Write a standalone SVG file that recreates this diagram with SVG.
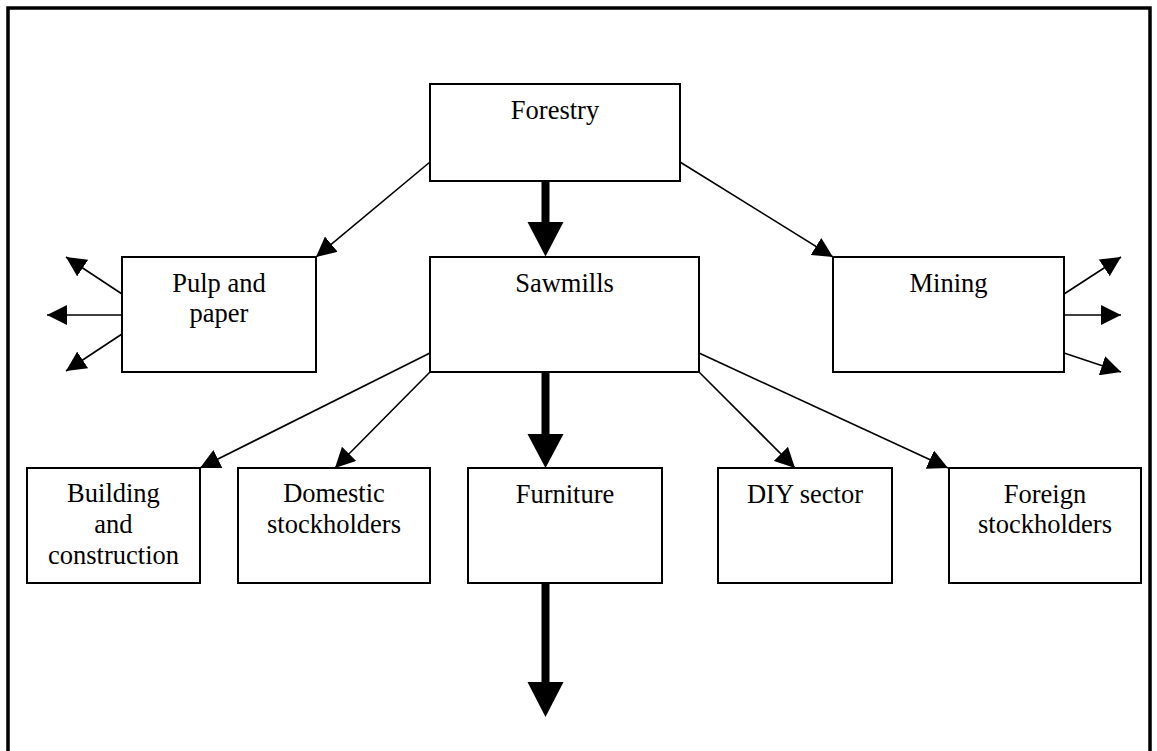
<svg xmlns="http://www.w3.org/2000/svg" width="1157" height="751" viewBox="0 0 1157 751">
<style>
.box{fill:#fff;stroke:#000;stroke-width:2}
.lbl{font-family:"Liberation Serif","Times New Roman",serif;font-size:26.5px;fill:#000;text-anchor:middle}
.thin{stroke:#000;stroke-width:1.6;fill:none;marker-end:url(#ah)}
.head{fill:#000;stroke:none}
</style>
<defs>
<marker id="ah" markerUnits="userSpaceOnUse" markerWidth="20" markerHeight="20" refX="20" refY="10" orient="auto" viewBox="0 0 20 20">
<path d="M0,0 L20,10 L0,20 z" fill="#000"/>
</marker>
</defs>
<rect x="0" y="0" width="1157" height="751" fill="#fff"/>
<path d="M8,751 L8,8 L1150,8 L1150,751" fill="none" stroke="#000" stroke-width="3.5"/>

<g id="connectors">
<line class="thin" x1="430" y1="162" x2="316" y2="257"/>
<line class="thin" x1="680" y1="162" x2="833" y2="257"/>
<line class="thin" x1="122" y1="294" x2="66" y2="257"/>
<line class="thin" x1="122" y1="315" x2="47" y2="315"/>
<line class="thin" x1="122" y1="334" x2="66" y2="371"/>
<line class="thin" x1="1064" y1="294" x2="1121" y2="257"/>
<line class="thin" x1="1064" y1="315" x2="1121" y2="315"/>
<line class="thin" x1="1064" y1="353" x2="1121" y2="372"/>
<line class="thin" x1="430" y1="353" x2="200" y2="468"/>
<line class="thin" x1="430" y1="372" x2="335" y2="468"/>
<line class="thin" x1="699" y1="372" x2="795" y2="468"/>
<line class="thin" x1="699" y1="353" x2="948" y2="468"/>
<g id="thick1"><rect x="541.5" y="181" width="8" height="42"/><polygon class="head" points="527.5,222 563.5,222 545.5,256.5"/></g>
<g id="thick2"><rect x="541.5" y="372" width="8" height="63"/><polygon class="head" points="527.5,434 563.5,434 545.5,468"/></g>
<g id="thick3"><rect x="541.5" y="583" width="8" height="100"/><polygon class="head" points="527.5,682 563.5,682 545.5,717"/></g>
</g>

<g id="forestry"><rect class="box" x="430" y="84" width="250" height="97"/><text class="lbl" x="555" y="119">Forestry</text></g>
<g id="pulp"><rect class="box" x="122" y="257" width="194" height="115"/><text class="lbl" x="219" y="292">Pulp and</text><text class="lbl" x="219" y="322">paper</text></g>
<g id="sawmills"><rect class="box" x="430" y="257" width="269" height="115"/><text class="lbl" x="564.5" y="292">Sawmills</text></g>
<g id="mining"><rect class="box" x="833" y="257" width="231" height="115"/><text class="lbl" x="948.5" y="292">Mining</text></g>
<g id="building"><rect class="box" x="27" y="468" width="173" height="115"/><text class="lbl" x="113.5" y="502">Building</text><text class="lbl" x="113.5" y="533">and</text><text class="lbl" x="113.5" y="564">construction</text></g>
<g id="domestic"><rect class="box" x="238" y="468" width="192" height="115"/><text class="lbl" x="334" y="502">Domestic</text><text class="lbl" x="334" y="533">stockholders</text></g>
<g id="furniture"><rect class="box" x="468" y="468" width="194" height="115"/><text class="lbl" x="565" y="503">Furniture</text></g>
<g id="diy"><rect class="box" x="718" y="468" width="174" height="115"/><text class="lbl" x="805" y="503">DIY sector</text></g>
<g id="foreign"><rect class="box" x="949" y="468" width="192" height="115"/><text class="lbl" x="1045" y="503">Foreign</text><text class="lbl" x="1045" y="533">stockholders</text></g>
</svg>
